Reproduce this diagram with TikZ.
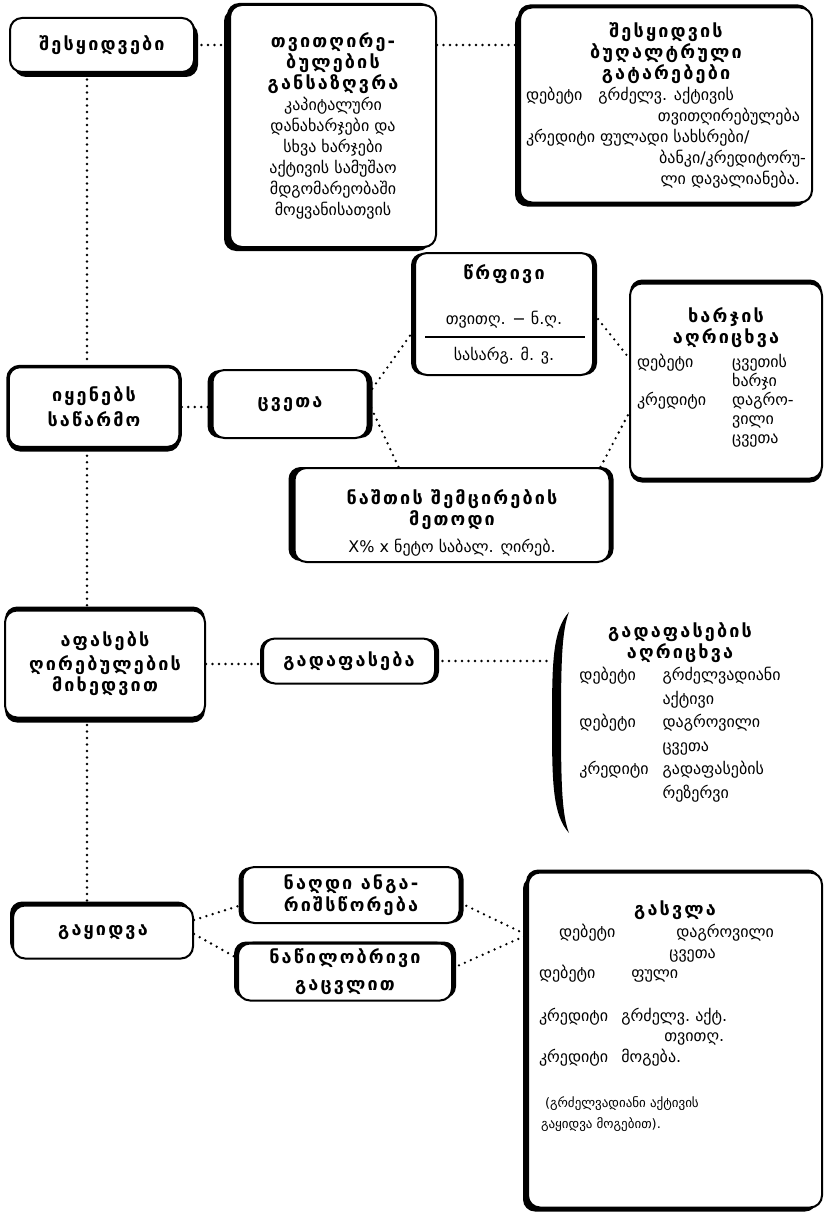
\documentclass[tikz,border=0pt]{standalone}
\usepackage{fontspec}
\setmainfont{DejaVu Sans}
\newfontfamily\headfam[LetterSpace=12]{DejaVu Sans}
\usetikzlibrary{shadows}
% heading, body and small text styles; headings keep a fixed line pitch
\newcommand\hdg{\headfam\bfseries\fontsize{18}{21}\selectfont
  \lineskiplimit=-30pt\relax\lineskip=0pt\relax}
\newcommand\bdy{\normalfont\fontsize{16}{21.5}\selectfont}
\newcommand\bdyt{\normalfont\fontsize{16}{19}\selectfont\lineskiplimit=0pt\relax}
\newcommand\bdyr{\normalfont\fontsize{16}{23.5}\selectfont\lineskiplimit=0pt\relax}
\newcommand\bdyd{\normalfont\fontsize{16}{20.5}\selectfont\lineskiplimit=0pt\relax}
\newcommand\smt{\normalfont\fontsize{13}{22}\selectfont}
\begin{document}
\begin{tikzpicture}[x=1pt,y=-1pt,
  box/.style={draw, line width=2pt, rounded corners=12pt, fill=white,
              align=center, inner sep=3pt, font=\hdg},
  shd/.style 2 args={general shadow={fill=black, shadow xshift=#1, shadow yshift=#2}},
  conn/.style={line width=2.6pt, dash pattern=on 0pt off 6.5pt, line cap=round},
]
\useasboundingbox[fill=white] (0,0) rectangle (830,1225);

% ---- purchase row
\node[box, shd={4pt}{-5pt}, minimum width=184pt, minimum height=54pt] (buy) at (102,45)
  {შესყიდვები};
\node[box, shd={-6pt}{-4pt}, shd={-3pt}{2pt}, minimum width=206pt, minimum height=242pt] (cost) at (333,126)
  {თვითღირე-\\ბულების\\განსაზღვრა\\
   \bdy კაპიტალური\\\bdy დანახარჯები და\\\bdy სხვა ხარჯები\\
   \bdy აქტივის სამუშაო\\\bdy მდგომარეობაში\\\bdy მოყვანისათვის};
\node[box, shd={-5pt}{-4pt}, shd={-2pt}{3pt}, minimum width=292pt, minimum height=195pt] (book) at (666,105)
  {შესყიდვის\\ბუღალტრული\\გატარებები\\
   \bdy\makebox[280pt][l]{დებეტი\quad გრძელვ. აქტივის}\\
   \bdy\makebox[280pt][r]{თვითღირებულება\hspace{6pt}}\\
   \bdy\makebox[280pt][l]{კრედიტი\ ფულადი სახსრები/}\\
   \bdy\makebox[280pt][r]{ბანკი/კრედიტორუ-}\\
   \bdy\makebox[280pt][r]{ლი დავალიანება.\hspace{6pt}}};

% ---- use / depreciation row
\node[box, line width=3.5pt, shd={0pt}{-4pt}, minimum width=172pt, minimum height=81pt] (use) at (94,407)
  {იყენებს\\[4pt]საწარმო};
\node[box, shd={-5pt}{0pt}, shd={5pt}{0pt}, minimum width=155pt, minimum height=68pt] (dep) at (290,404)
  {ცვეთა};
\node[box, shd={-4pt}{0pt}, shd={4pt}{0pt}, minimum width=178pt, minimum height=122pt] (lin) at (504,314)
  {წრფივი\\[24pt]\bdy თვითღ. − ნ.ღ.\\[15pt]\bdy სასარგ. მ. ვ.};
\coordinate (frL) at (425,337);
\coordinate (frR) at (585,337);
\draw[line width=1.6pt] (frL) -- (frR);
\node[box, shd={0pt}{4pt}, shd={0pt}{-4pt}, minimum width=192pt, minimum height=195pt] (exp) at (726,381)
  {ხარჯის\\აღრიცხვა\\[6pt]
   \bdyt\makebox[178pt][l]{\begin{tabular}{@{}l@{\hspace{26pt}}l@{}}დებეტი & ცვეთის\\ & ხარჯი\\ კრედიტი & დაგრო-\\ & ვილი\\ & ცვეთა\end{tabular}}\\[28pt]\mbox{}};
\node[box, shd={-6pt}{1pt}, shd={4pt}{1pt}, minimum width=315pt, minimum height=94pt] (decl) at (452,515)
  {\rule{0pt}{14pt}\\[-5pt]ნაშთის შემცირების\\მეთოდი\\[6pt]\bdy X\% x ნეტო საბალ. ღირებ.};

% ---- revaluation row
\node[box, shd={0pt}{4pt}, shd={0pt}{-5pt}, minimum width=200pt, minimum height=107pt] (reval) at (105,664)
  {აფასებს\\[3pt]ღირებულების\\მიხედვით};
\node[box, shd={-3pt}{0pt}, shd={4pt}{0pt}, minimum width=172pt, minimum height=45pt] (gadaf) at (349,661)
  {გადაფასება};
\coordinate (brk) at (553,661);
\fill (569,612) .. controls (553,630) and (552,660) .. (552,722)
      .. controls (552,785) and (553,815) .. (569,833)
      .. controls (562,815) and (561,785) .. (561,722)
      .. controls (561,660) and (562,630) .. (569,612) -- cycle;
\node[align=center, inner sep=0pt, anchor=north, font=\hdg] (rtab) at (680,622)
  {გადაფასების\\აღრიცხვა\\[2pt]
   \bdyr\begin{tabular}{@{}l@{\hspace{14pt}}l@{}}დებეტი & გრძელვადიანი\\ & აქტივი\\ დებეტი & დაგროვილი\\ & ცვეთა\\ კრედიტი & გადაფასების\\ & რეზერვი\end{tabular}};

% ---- sale row
\node[box, shd={-3pt}{4pt}, minimum width=180pt, minimum height=53pt] (sell) at (103,932)
  {გაყიდვა};
\node[box, shd={-4pt}{0pt}, shd={4pt}{0pt}, minimum width=217pt, minimum height=56pt] (cash) at (351,895)
  {ნაღდი ანგა-\\[1pt]რიშსწორება};
\node[box, shd={-4pt}{2pt}, shd={4pt}{2pt}, minimum width=214pt, minimum height=57pt] (part) at (345,972)
  {ნაწილობრივი\\[6pt]გაცვლით};
\node[box, shd={-5pt}{-4pt}, shd={-2pt}{3pt}, minimum width=294pt, minimum height=335pt] (disp) at (675,1040)
  {გასვლა\\[4pt]
   \bdyd\makebox[272pt][l]{\begin{tabular}{@{}l@{\hspace{6pt}}l@{}}
   \hspace{20pt}დებეტი & \hspace{55pt}დაგროვილი\\
    & \hspace{48pt}ცვეთა\\
   დებეტი & \hspace{10pt}ფული\\[22pt]
   კრედიტი & გრძელვ.\ აქტ.\\
    & \hspace{43pt}თვითღ.\\
   კრედიტი & მოგება.
   \end{tabular}}\\[28pt]
   \smt\makebox[272pt][l]{\hspace{6pt}(გრძელვადიანი აქტივის}\\
   \smt\makebox[272pt][l]{\hspace{2pt}გაყიდვა მოგებით).}\\[30pt]\mbox{}};

% ---- connectors
\coordinate (sp) at (87,0);
\draw[conn] (buy.east) -- (buy.east -| cost.west);
\draw[conn] (cost.east |- buy.east) -- (book.west |- buy.east);
\draw[conn] (buy.south -| sp) -- (use.north -| sp);
\draw[conn] (use.south -| sp) -- (reval.north -| sp);
\draw[conn] (reval.south -| sp) -- (sell.north -| sp);
\draw[conn] (use.east) -- (use.east -| dep.west);
\draw[conn] ([yshift=10pt]dep.east) -- ([yshift=-16pt]lin.west);
\draw[conn] ([yshift=2pt]dep.east) -- ([xshift=105pt]decl.north west);
\draw[conn] (lin.east) -- ([yshift=23pt]exp.west);
\draw[conn] ([xshift=-10pt]decl.north east) -- ([yshift=-32pt]exp.west);
\draw[conn] (reval.east) -- (reval.east -| gadaf.west);
\draw[conn] (gadaf.east) -- (gadaf.east -| brk);
\draw[conn] ([yshift=12pt]sell.east) -- ([yshift=-10pt]cash.west);
\draw[conn] ([yshift=-2pt]sell.east) -- ([yshift=14pt]part.west);
\draw[conn] ([yshift=-8pt]cash.east) -- ([yshift=105pt]disp.west);
\draw[conn] ([yshift=4pt]part.east) -- ([yshift=105pt]disp.west);
\end{tikzpicture}
\end{document}
